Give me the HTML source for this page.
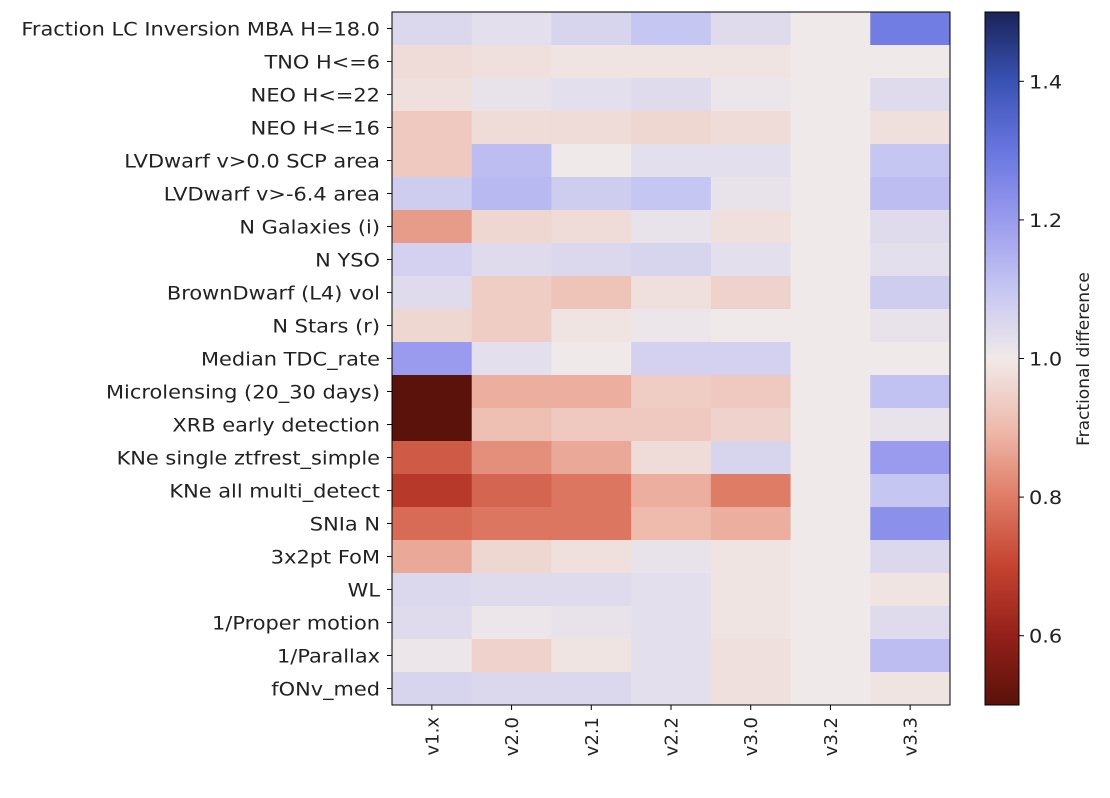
<!DOCTYPE html>
<html><head><meta charset="utf-8"><style>
html,body{margin:0;padding:0;background:#fff;}
svg{display:block;font-family:"DejaVu Sans","Liberation Sans",sans-serif;}
</style></head><body>
<svg id="chart" width="1110" height="798">
<g id="cells"></g>
<rect x="392" y="12" width="558" height="693" fill="none" stroke="#000" stroke-width="1"/>
<g id="ylabels"></g>
<g id="xlabels"></g>
<defs><linearGradient id="cbg" x1="0" y1="1" x2="0" y2="0"></linearGradient></defs>
<rect x="985" y="12" width="34" height="693" fill="url(#cbg)" stroke="#000" stroke-width="1"/>
<g id="cbticks"></g>
<text x="1089" y="359" transform="rotate(-90 1089 359)" text-anchor="middle" font-size="17" fill="#222">Fractional difference</text>
</svg>
<script>
const rows=["Fraction LC Inversion MBA H=18.0","TNO H<=6","NEO H<=22","NEO H<=16","LVDwarf v>0.0 SCP area","LVDwarf v>-6.4 area","N Galaxies (i)","N YSO","BrownDwarf (L4) vol","N Stars (r)","Median TDC_rate","Microlensing (20_30 days)","XRB early detection","KNe single ztfrest_simple","KNe all multi_detect","SNIa N","3x2pt FoM","WL","1/Proper motion","1/Parallax","fONv_med"];
const cols=["v1.x","v2.0","v2.1","v2.2","v3.0","v3.2","v3.3"];
const values=[
[1.05,1.03,1.06,1.1,1.04,1.0,1.28],
[0.97,0.98,0.99,0.99,0.99,1.0,1.0],
[0.98,1.02,1.03,1.04,1.01,1.0,1.04],
[0.93,0.97,0.97,0.96,0.97,1.0,0.98],
[0.93,1.12,1.0,1.03,1.03,1.0,1.1],
[1.08,1.13,1.08,1.1,1.02,1.0,1.12],
[0.85,0.96,0.97,1.02,0.98,1.0,1.04],
[1.07,1.04,1.05,1.06,1.03,1.0,1.03],
[1.04,0.94,0.92,0.98,0.95,1.0,1.08],
[0.96,0.94,0.99,1.01,1.0,1.0,1.02],
[1.2,1.03,1.0,1.07,1.07,1.0,1.0],
[0.5,0.88,0.88,0.94,0.93,1.0,1.11],
[0.5,0.91,0.93,0.93,0.95,1.0,1.02],
[0.74,0.83,0.87,0.97,1.06,1.0,1.2],
[0.67,0.76,0.79,0.88,0.8,1.0,1.1],
[0.77,0.79,0.79,0.9,0.88,1.0,1.23],
[0.87,0.96,0.98,1.02,0.99,1.0,1.05],
[1.05,1.04,1.04,1.03,0.99,1.0,0.99],
[1.04,1.01,1.02,1.03,0.99,1.0,1.04],
[1.01,0.95,0.99,1.03,0.98,1.0,1.12],
[1.06,1.05,1.05,1.03,0.98,1.0,0.99]];
const cbTicks=[0.6,0.8,1.0,1.2,1.4];
const vmin=0.5,vmax=1.5;
const stops=[[0.5,"#5a120a"],[0.6,"#94201a"],[0.7,"#c4432f"],[0.8,"#df7c66"],[0.9,"#eebbad"],[1.0,"#f0e9e9"],[1.1,"#c6c6f2"],[1.2,"#9a9bee"],[1.3,"#6876e0"],[1.4,"#3a52b4"],[1.5,"#1a2458"]];
const NS="http://www.w3.org/2000/svg";
const X0=392,X1=950,Y0=12,Y1=705;
const STRETCH=1.1;
const cw=(X1-X0)/cols.length, rh=(Y1-Y0)/rows.length;
const xPos=i=>X0+i*cw, yPos=j=>Y0+j*rh;
const cbY=v=>Y1-(v-vmin)/(vmax-vmin)*(Y1-Y0);
function hex(h){return [1,3,5].map(i=>parseInt(h.substr(i,2),16));}
function color(v){v=Math.max(vmin,Math.min(vmax,v));
for(let k=0;k<stops.length-1;k++){const [a,ca]=stops[k],[b,cb]=stops[k+1];
if(v<=b){const t=(v-a)/(b-a),A=hex(ca),B=hex(cb);return "rgb("+A.map((x,i)=>Math.round(x+(B[i]-x)*t)).join(",")+")";}}
return stops[stops.length-1][1];}
function el(t,a,p){const e=document.createElementNS(NS,t);for(const k in a)e.setAttribute(k,a[k]);p.appendChild(e);return e;}
function stretch(t){const L=t.getComputedTextLength();t.setAttribute("textLength",(L*STRETCH).toFixed(1));t.setAttribute("lengthAdjust","spacingAndGlyphs");}
const cells=document.getElementById("cells");
values.forEach((r,j)=>r.forEach((v,i)=>{
const e=el("rect",{x:xPos(i),y:yPos(j),width:cw+0.5,height:rh+0.5,fill:color(v)},cells);


}));
const yl=document.getElementById("ylabels");
rows.forEach((r,j)=>{const y=yPos(j)+rh/2;
el("line",{x1:387,x2:392,y1:y,y2:y,stroke:"#000"},yl);
const t=el("text",{x:380,y:y+7,"text-anchor":"end","font-size":"19",fill:"#222"},yl);t.textContent=r;


stretch(t);});
const xl=document.getElementById("xlabels");
cols.forEach((c,i)=>{const x=xPos(i)+cw/2;
el("line",{x1:x,x2:x,y1:705,y2:710,stroke:"#000"},xl);
const t=el("text",{x:x+6.5,y:717,transform:`rotate(-90 ${x+6.5} 717)`,"text-anchor":"end","font-size":"18",fill:"#222"},xl);t.textContent=c;

});
const g=document.getElementById("cbg");
stops.forEach(s=>el("stop",{offset:((s[0]-vmin)/(vmax-vmin)*100)+"%","stop-color":s[1]},g));
const cbt=document.getElementById("cbticks");
cbTicks.forEach(v=>{const y=cbY(v);
el("line",{x1:1019,x2:1024,y1:y,y2:y,stroke:"#000"},cbt);
const t=el("text",{x:1029,y:y+7,"font-size":"19",fill:"#222"},cbt);t.textContent=v.toFixed(1);


stretch(t);});
</script>
</body></html>
